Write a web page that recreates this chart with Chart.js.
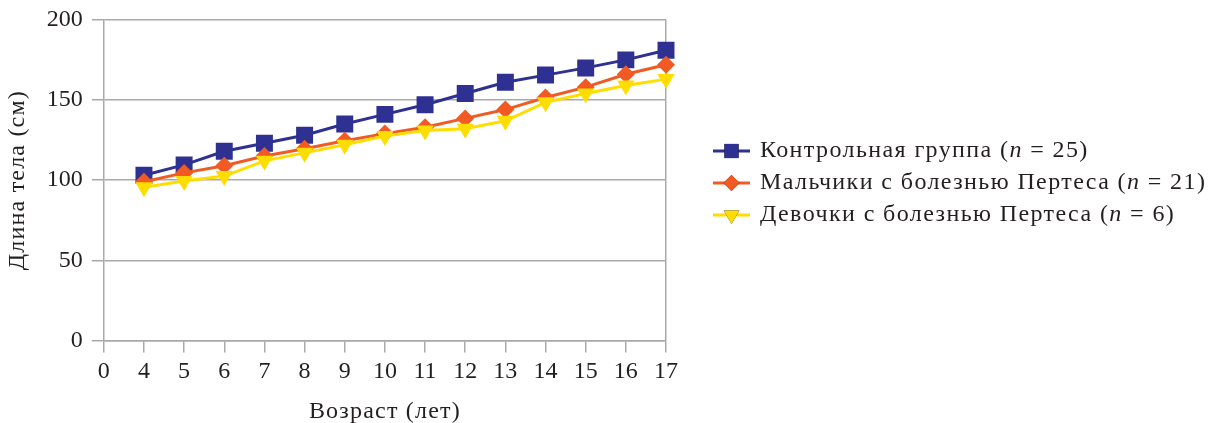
<!DOCTYPE html>
<html>
<head>
  <title>Длина тела</title>
  <script src="https://cdn.jsdelivr.net/npm/chart.js"></script>
  <style>
    body { margin: 0; background: #fff; }
    #wrap { width: 1214px; height: 423px; }
  </style>
</head>
<body>
  <div id="wrap"><canvas id="heightChart" width="1214" height="423"></canvas></div>

  <script>
    // ages (the "0" category is an empty slot at the start of the axis)
    const ages = ['0', '4', '5', '6', '7', '8', '9', '10', '11', '12', '13', '14', '15', '16', '17'];
    const controlGroup = [null, 103, 109.5, 118, 123, 128, 135, 141, 147, 154, 161, 165.5, 170, 175, 181];
    const boysPerthes = [null, 99, 104.5, 109, 115, 119.5, 124.5, 129, 133, 138.5, 144, 151.5, 158, 166, 172];
    const girlsPerthes = [null, 95.5, 99.5, 102.5, 112, 117, 122, 127.5, 131, 132, 137, 148.5, 154, 159, 163];
    const yTicks = [0, 50, 100, 150, 200];

    const seriesNames = ['Контрольная группа', 'Мальчики с болезнью Пертеса', 'Девочки с болезнью Пертеса'];
    const seriesN = [25, 21, 6];

    const navy = '#2e3192';
    const orange = '#f15a22';
    const yellow = '#ffdd00';
    const grid = '#a9a9a9';
    const font = '"Liberation Serif", "DejaVu Serif", serif';

    // axis titles are set a little wider, like the original typeface
    const spacedTitles = {
      id: 'spacedTitles',
      afterUpdate(chart) {
        Object.values(chart.scales).forEach(s => {
          if (s._spaced) return;
          const orig = s.drawTitle;
          s.drawTitle = function () {
            const c = this.ctx;
            c.save();
            c.letterSpacing = '1.2px';
            orig.apply(this, arguments);
            c.restore();
          };
          s._spaced = true;
        });
      }
    };

    // legend drawn by hand so each entry shows line + marker
    const legendLines = {
      id: 'legendLines',
      afterDraw(chart) {
        const c = chart.ctx;
        const x0 = 713, y0 = 151, step = 32;
        chart.data.datasets.forEach((ds, i) => {
          const y = y0 + i * step;
          c.save();
          c.strokeStyle = ds.borderColor;
          c.lineWidth = 3;
          c.beginPath();
          c.moveTo(x0, y);
          c.lineTo(x0 + 37, y);
          c.stroke();
          Chart.helpers.drawPoint(c, {
            pointStyle: ds.pointStyle,
            radius: ds.legendRadius,
            rotation: ds.rotation || 0,
            borderWidth: 0
          }, x0 + 18.5, y);
          c.fillStyle = ds.pointBackgroundColor;
          c.fill();

          c.fillStyle = '#231f20';
          c.textBaseline = 'middle';
          c.textAlign = 'left';
          c.letterSpacing = '1.4px';
          let x = x0 + 47;
          const parts = [
            [seriesNames[i] + ' (', 'normal'],
            ['n', 'italic'],
            [' = ' + seriesN[i] + ')', 'normal']
          ];
          parts.forEach(([t, style]) => {
            c.font = style + ' 24px ' + font;
            c.fillText(t, x, y);
            x += c.measureText(t).width;
          });
          c.restore();
        });
      }
    };

    const ctx = document.getElementById('heightChart').getContext('2d');
    new Chart(ctx, {
      type: 'line',
      data: {
        labels: ages,
        datasets: [
          {
            label: seriesNames[0],
            data: controlGroup,
            borderColor: navy,
            backgroundColor: navy,
            pointBackgroundColor: navy,
            pointBorderWidth: 0,
            borderWidth: 3,
            pointStyle: 'rect',
            pointRadius: 12,
            legendRadius: 10,
            order: 2
          },
          {
            label: seriesNames[1],
            data: boysPerthes,
            borderColor: orange,
            backgroundColor: orange,
            pointBackgroundColor: orange,
            pointBorderWidth: 0,
            borderWidth: 3,
            pointStyle: 'rectRot',
            pointRadius: 9,
            legendRadius: 8,
            order: 1
          },
          {
            label: seriesNames[2],
            data: girlsPerthes,
            borderColor: yellow,
            backgroundColor: yellow,
            pointBackgroundColor: yellow,
            pointBorderWidth: 0,
            borderWidth: 3,
            pointStyle: 'triangle',
            rotation: 180,
            pointRotation: 180,
            pointRadius: 10,
            legendRadius: 9,
            order: 0
          }
        ]
      },
      options: {
        responsive: false,
        animation: false,
        events: [],
        layout: { padding: { top: 15, right: 548, left: 3, bottom: 0 } },
        plugins: {
          legend: { display: false },
          tooltip: { enabled: false }
        },
        scales: {
          x: {
            offset: false,
            grid: {
              drawOnChartArea: true,
              color: c => c.index === ages.length - 1 ? grid : 'rgba(0,0,0,0)',
              tickColor: grid,
              tickLength: 12,
              lineWidth: 1.5
            },
            border: { display: true, color: grid, width: 1.5 },
            ticks: {
              color: '#231f20',
              font: { family: font, size: 24 },
              padding: 5,
              maxRotation: 0,
              autoSkip: false
            },
            title: {
              display: true,
              text: 'Возраст (лет)',
              color: '#231f20',
              font: { family: font, size: 24 },
              padding: { top: 6, bottom: -3 }
            }
          },
          y: {
            min: 0,
            max: 200,
            afterBuildTicks: axis => { axis.ticks = yTicks.map(v => ({ value: v })); },
            grid: {
              color: grid,
              tickColor: grid,
              tickLength: 12,
              lineWidth: 1.5
            },
            border: { display: true, color: grid, width: 1.5 },
            ticks: {
              color: '#231f20',
              font: { family: font, size: 24, lineHeight: 0.9 },
              padding: 9
            },
            title: {
              display: true,
              text: 'Длина тела (см)',
              color: '#231f20',
              font: { family: font, size: 24 },
              padding: { top: 0, bottom: 6 }
            }
          }
        }
      },
      plugins: [spacedTitles, legendLines]
    });
  </script>
</body>
</html>
